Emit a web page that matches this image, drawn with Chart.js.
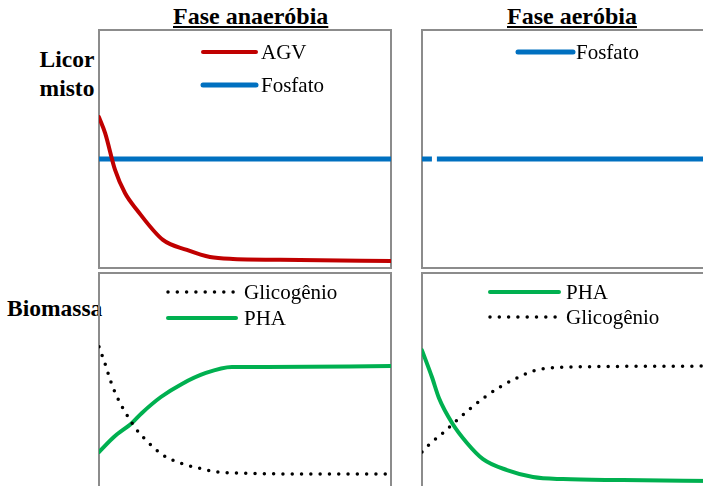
<!DOCTYPE html>
<html>
<head>
<meta charset="utf-8">
<script src="https://cdn.jsdelivr.net/npm/chart.js@4.4.0/dist/chart.umd.min.js"></script>
<style>
  html, body { margin: 0; padding: 0; background: #fff; }
  .wrap { position: relative; width: 703px; height: 486px; overflow: hidden; }
  .panel { position: absolute; width: 296px; height: 242px; }
  .lbl {
    position: absolute;
    font-family: 'Liberation Serif', 'Times New Roman', serif;
    font-weight: bold;
    font-size: 23.5px;
    line-height: 23.5px;
    color: #000;
    white-space: nowrap;
  }
  .ttl { font-size: 24px; line-height: 24px; text-decoration: underline; text-decoration-thickness: 2px; text-underline-offset: 2px; }
</style>
</head>
<body>
<div class="wrap">
  <div class="lbl ttl" style="left:173px; top:4px;">Fase anaeróbia</div>
  <div class="lbl ttl" style="left:507px; top:4px;">Fase aeróbia</div>
  <div class="lbl" style="left:37px; top:48px; width:60px; text-align:center;">Licor<br><span style="position:relative; top:5px;">misto</span></div>
  <div class="lbl" style="left:7px; top:297px;">Biomassa</div>

  <div class="panel" style="left:97px; top:28px;"><canvas id="anaerLicor" width="296" height="242"></canvas></div>
  <div class="panel" style="left:420px; top:28px;"><canvas id="aerLicor" width="296" height="242"></canvas></div>
  <div class="panel" style="left:97px; top:271px;"><canvas id="anaerBio" width="296" height="242"></canvas></div>
  <div class="panel" style="left:420px; top:271px;"><canvas id="aerBio" width="296" height="242"></canvas></div>
</div>

<script>
// Time axis runs 0-100 in each phase, concentrations are relative (0-100)

// Anaerobic phase - mixed liquor
const agvX = [0, 2.1, 5.5, 8.9, 13.0, 21.9, 30.1, 38.0, 45.9, 68.8, 100];
const agvY = [63.4, 56.7, 41.2, 31.5, 24.4, 11.8, 7.6, 4.6, 3.8, 3.4, 2.9];
const fosfatoAnaerX = [0, 100];
const fosfatoAnaerY = [45.8, 45.8];

// Aerobic phase - mixed liquor (small break near the start)
const fosfatoAerX = [0, 3.4, 4.2, 5.1, 100];
const fosfatoAerY = [45.8, 45.8, null, 45.8, 45.8];

// Anaerobic phase - biomass
const glicAnaerX = [0, 2.1, 4.1, 6.2, 9.6, 13.0, 16.4, 21.9, 27.7, 33.9, 40.4, 47.3, 68.8, 100];
const glicAnaerY = [69.0, 61.8, 54.2, 47.9, 40.3, 34.0, 29.4, 23.5, 20.2, 18.1, 16.4, 16.0, 15.5, 15.5];
const phaAnaerX = [0, 5.1, 11.3, 14.7, 21.2, 28.4, 36.6, 45.5, 57.2, 100];
const phaAnaerY = [24.8, 31.1, 37.0, 41.2, 47.9, 53.4, 58.0, 60.5, 60.5, 60.9];

// Aerobic phase - biomass
const phaAerX = [0, 3.4, 5.8, 10.3, 15.4, 20.9, 29.1, 38.0, 48.3, 68.8, 100];
const phaAerY = [67.5, 56.3, 47.5, 37.0, 28.6, 21.8, 17.2, 14.3, 13.4, 13.0, 12.6];
const glicAerX = [0, 2.7, 7.2, 12.0, 16.4, 21.6, 26.7, 32.5, 38.0, 43.8, 50.7, 100];
const glicAerY = [24.8, 28.2, 32.8, 38.2, 42.9, 47.9, 52.1, 55.9, 58.8, 60.1, 60.5, 60.9];

const RED = '#c00000';
const BLUE = '#0070c0';
const GREEN = '#00b050';
const SERIF = "'Liberation Serif', 'Times New Roman', serif";

function pts(xs, ys) {
  return xs.map((x, i) => ({ x: x, y: ys[i] }));
}

// Styles per series
function agvSet() {
  return { label: 'AGV', data: pts(agvX, agvY), borderColor: RED, borderWidth: 4,
    cubicInterpolationMode: 'monotone', borderCapStyle: 'round' };
}
function fosfatoSet(xs, ys) {
  return { label: 'Fosfato', data: pts(xs, ys), borderColor: BLUE, borderWidth: 5,
    tension: 0, borderCapStyle: 'butt' };
}
function phaSet(xs, ys) {
  return { label: 'PHA', data: pts(xs, ys), borderColor: GREEN, borderWidth: 4,
    cubicInterpolationMode: 'monotone', borderCapStyle: 'round' };
}
function glicSet(xs, ys) {
  return { label: 'Glicogênio', data: pts(xs, ys), borderColor: '#000', borderWidth: 3.5,
    borderDash: [0, 9.3], borderCapStyle: 'round', cubicInterpolationMode: 'monotone' };
}

// Gray frame around the plot area
const frame = {
  id: 'frame',
  beforeDatasetsDraw(chart) {
    const a = chart.chartArea, ctx = chart.ctx;
    ctx.save();
    ctx.strokeStyle = '#8c8c8c';
    ctx.lineWidth = 2;
    ctx.strokeRect(a.left, a.top, a.right - a.left, a.bottom - a.top);
    ctx.restore();
  }
};

// Legend drawn inside the plot area, one entry per row
const lineKey = {
  id: 'lineKey',
  afterDraw(chart, args, opts) {
    const a = chart.chartArea, ctx = chart.ctx;
    ctx.save();
    ctx.font = '21px ' + SERIF;
    ctx.textBaseline = 'middle';
    ctx.fillStyle = '#000';
    opts.items.forEach((idx, i) => {
      const ds = chart.data.datasets[idx];
      const x0 = a.left + opts.left;
      const y = a.top + opts.top + i * opts.step;
      ctx.strokeStyle = ds.borderColor;
      ctx.lineWidth = ds.borderWidth;
      ctx.lineCap = 'round';
      ctx.setLineDash(ds.borderDash || []);
      ctx.beginPath();
      ctx.moveTo(x0, y);
      ctx.lineTo(x0 + opts.len, y);
      ctx.stroke();
      ctx.setLineDash([]);
      ctx.fillText(ds.label, x0 + opts.len + opts.pad, y + 1);
    });
    ctx.restore();
  }
};

function makeChart(id, datasets, key) {
  new Chart(document.getElementById(id), {
    type: 'line',
    data: { datasets: datasets },
    options: {
      responsive: false,
      animation: false,
      layout: { padding: 2 },
      elements: { point: { radius: 0 } },
      scales: {
        x: { type: 'linear', min: 0, max: 100, display: false },
        y: { min: 0, max: 100, display: false }
      },
      plugins: {
        legend: { display: false },
        tooltip: { enabled: false },
        lineKey: key
      }
    },
    plugins: [frame, lineKey]
  });
}

makeChart('anaerLicor', [agvSet(), fosfatoSet(fosfatoAnaerX, fosfatoAnaerY)],
  { items: [0, 1], left: 104, top: 22, step: 33, len: 53, pad: 5 });
makeChart('aerLicor', [fosfatoSet(fosfatoAerX, fosfatoAerY)],
  { items: [0], left: 96, top: 22, step: 33, len: 55, pad: 3 });
makeChart('anaerBio', [glicSet(glicAnaerX, glicAnaerY), phaSet(phaAnaerX, phaAnaerY)],
  { items: [0, 1], left: 69, top: 19, step: 26, len: 68, pad: 8 });
makeChart('aerBio', [phaSet(phaAerX, phaAerY), glicSet(glicAerX, glicAerY)],
  { items: [0, 1], left: 68, top: 19, step: 25, len: 69, pad: 7 });
</script>
</body>
</html>
